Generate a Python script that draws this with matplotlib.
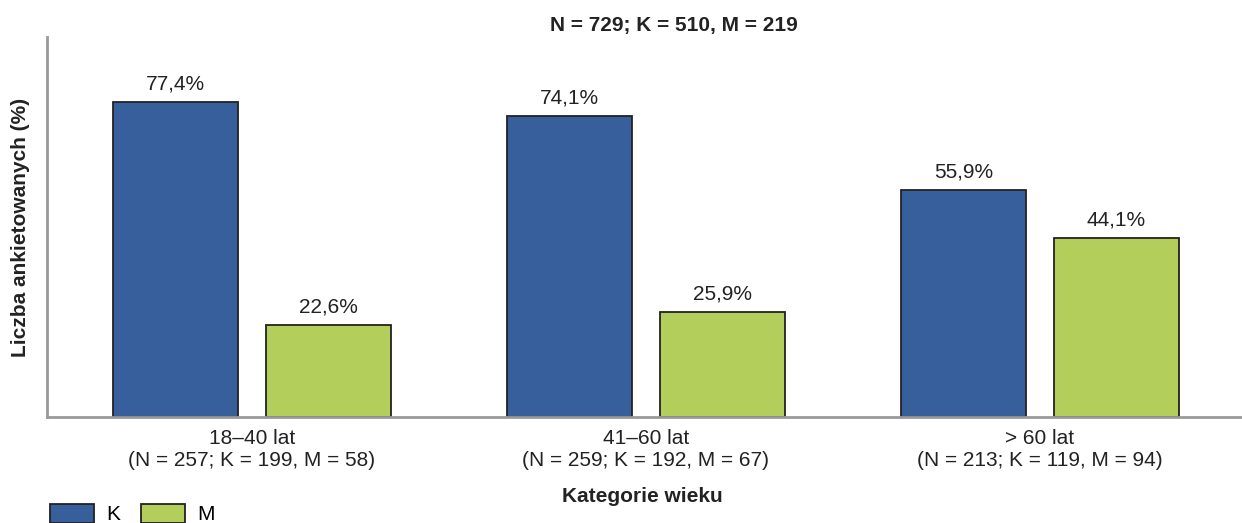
import matplotlib.pyplot as plt
import numpy as np

plt.rcParams['font.family'] = ['Liberation Sans', 'DejaVu Sans']

categories = ["18–40 lat\n(N = 257; K = 199, M = 58)",
              "41–60 lat\n(N = 259; K = 192, M = 67)",
              "> 60 lat\n(N = 213; K = 119, M = 94)"]
k_vals = [77.4, 74.1, 55.9]
m_vals = [22.6, 25.9, 44.1]
series_names = ["K", "M"]
title = "N = 729; K = 510, M = 219"

blue = "#375F9C"
green = "#B4CE5C"

fig = plt.figure(figsize=(12.42, 5.23), dpi=100)
ax = fig.add_axes([47/1242, 1-417/523, 1190/1242, 380/523])

x = np.arange(len(categories))
w = 0.317
off = 0.194
b1 = ax.bar(x - off, k_vals, w, color=blue, edgecolor="#222222", linewidth=1.3, label=series_names[0])
b2 = ax.bar(x + off, m_vals, w, color=green, edgecolor="#222222", linewidth=1.3, label=series_names[1])

def fmt(v):
    return f"{v:.1f}".replace(".", ",") + "%"

for bars, vals in ((b1, k_vals), (b2, m_vals)):
    for b, v in zip(bars, vals):
        ax.annotate(fmt(v), (b.get_x() + b.get_width()/2, v), xytext=(0, 6),
                    textcoords="offset points", ha="center", va="bottom",
                    fontsize=15, color="#222222")

ax.set_xlim(-0.52, 2.5)
ax.set_ylim(0, 93.4)
ax.set_xticks(x)
ax.set_xticklabels(categories, fontsize=15, color="#222222")
ax.set_yticks([])
ax.tick_params(axis="x", length=0, pad=9)
for s in ("top", "right"):
    ax.spines[s].set_visible(False)
for s in ("left", "bottom"):
    ax.spines[s].set_color("#999999")
    ax.spines[s].set_linewidth(2)
ax.spines["bottom"].set_bounds(-0.52, 2.6)

ax.set_xlabel("Kategorie wieku", fontsize=15, fontweight="bold", color="#222222", labelpad=12)
ax.set_ylabel("Liczba ankietowanych (%)", fontsize=15, fontweight="bold", color="#222222", labelpad=12)
fig.text(674/1242, 1-25/523, title, ha="center", va="center", fontsize=15,
         fontweight="bold", color="#222222")

fig.legend(handles=[b1, b2], loc="upper left", bbox_to_anchor=(50/1242, 1-504/523),
           ncol=2, frameon=False, fontsize=15, borderpad=0, borderaxespad=0,
           handlelength=2.1, handleheight=1.0, handletextpad=0.6, columnspacing=1.0)

fig.savefig("out.png", dpi=100)
